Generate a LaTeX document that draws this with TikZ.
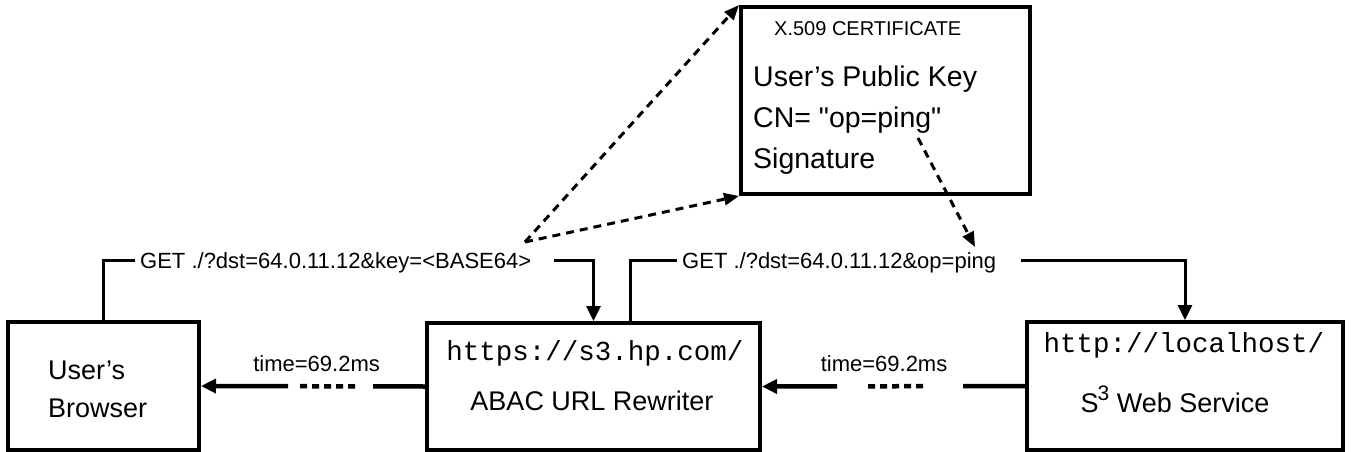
\documentclass[tikz,border=0pt]{standalone}
\usepackage{fontspec}
\setmainfont{Liberation Sans}
\setmonofont{Liberation Mono}
\newfontfamily\plainsans{Liberation Sans}
\usetikzlibrary{arrows.meta}

\begin{document}
\begin{tikzpicture}[x=1pt,y=-1pt,>={Triangle[length=15pt,width=14pt]}]
    \tikzstyle{box}=[draw,line width=4pt,inner sep=0pt]
    \tikzstyle{name text}=[anchor=base,inner sep=0pt,font=\fontsize{27}{32}\selectfont]
    \tikzstyle{url text}=[anchor=base,inner sep=0pt,font=\ttfamily\fontsize{27.5}{32}\selectfont]
    \tikzstyle{cert text}=[anchor=base west,inner sep=0pt,font=\fontsize{28.5}{34}\selectfont]
    \tikzstyle{msg}=[anchor=base west,inner sep=5pt,text depth=0pt,font=\fontsize{22}{26}\selectfont]
    \tikzstyle{delay}=[anchor=base,inner sep=0pt,yshift=15pt,font=\fontsize{22}{26}\selectfont]
    \tikzstyle{conn}=[draw,line width=3pt]
    \tikzstyle{reply}=[draw,line width=4.5pt,->]
    \tikzstyle{ref}=[draw,line width=3pt,dash pattern=on 8pt off 6pt,-{Triangle[length=15pt,width=12pt]}]

    \useasboundingbox (0,0) rectangle (1351,452);

    % the three hosts and the certificate
    \node[box,minimum width=191pt,minimum height=128pt] (browser) at (103.5,386) {};
    \node[box,minimum width=333pt,minimum height=127pt] (abac) at (593.5,386.5) {};
    \node[box,minimum width=316pt,minimum height=128pt] (s3) at (1185,386) {};
    \node[box,minimum width=289pt,minimum height=187pt] (cert) at (885.5,100.5) {};

    % texts in the boxes
    \node[name text,anchor=base west] (user) at (48,379) {User’s};
    \node[name text,anchor=base west] (brw) at (48,417) {Browser};
    \node[url text] (abacurl) at (595,360) {https://s3.hp.com/};
    \node[name text] (abacname) at (592,410) {ABAC URL Rewriter};
    \node[url text] (s3url) at (1184,352) {http://localhost/};
    \node[name text] (s3name) at (1175,412) {S\kern-1pt\raisebox{12pt}{\fontsize{21}{24}\selectfont 3} Web Service};

    \node[cert text,font=\fontsize{20}{24}\selectfont] (x509) at (774,36) {X.509 CERTIFICATE};
    \node[cert text] (pubkey) at (753,86) {User’s Public Key};
    \node[cert text,font=\plainsans\fontsize{28.5}{34}\selectfont] (cn) at (753,127) {CN= "op=ping"};
    \node[cert text] (sig) at (753,168) {Signature};

    % the requests
    \node[msg] (get1) at (135,268) {GET ./?dst=64.0.11.12\&key=<BASE64>};
    \node[msg] (get2) at (677,268) {GET ./?dst=64.0.11.12\&op=ping};

    \draw[conn] (browser.north) |- (get1.west);
    \draw[conn,->] ([xshift=18pt]get1.east) -| (abac.north);
    \draw[conn] ([xshift=36.5pt]abac.north) |- (get2.west);
    \draw[conn,->] ([xshift=19.5pt]get2.east) -| (s3.north);

    % the replies, broken in the middle
    \draw[reply,dash pattern=on 62pt off 40pt on 7pt off 5pt on 7pt off 5pt on 7pt off 5pt on 7pt off 5pt on 7pt off 31pt on 300pt]
        (s3.west) -- (abac.east) node[delay,pos=0.536] (t2) {time=69.2ms};
    \draw[reply,dash pattern=on 52pt off 18pt on 7pt off 5pt on 7pt off 5pt on 7pt off 5pt on 7pt off 5pt on 7pt off 12pt on 300pt]
        (abac.west) -- (browser.east) node[delay,pos=0.484] (t1) {time=69.2ms};

    % key and common name taken from the certificate
    \coordinate (apex) at (525,242);
    \coordinate (cnmark) at (918,138);
    \coordinate (pingmark) at (975,247);
    \draw[ref] (apex) -- (cert.north west);
    \draw[ref] (apex) -- (cert.south west);
    \draw[ref] (cnmark) -- (pingmark);
\end{tikzpicture}
\end{document}
